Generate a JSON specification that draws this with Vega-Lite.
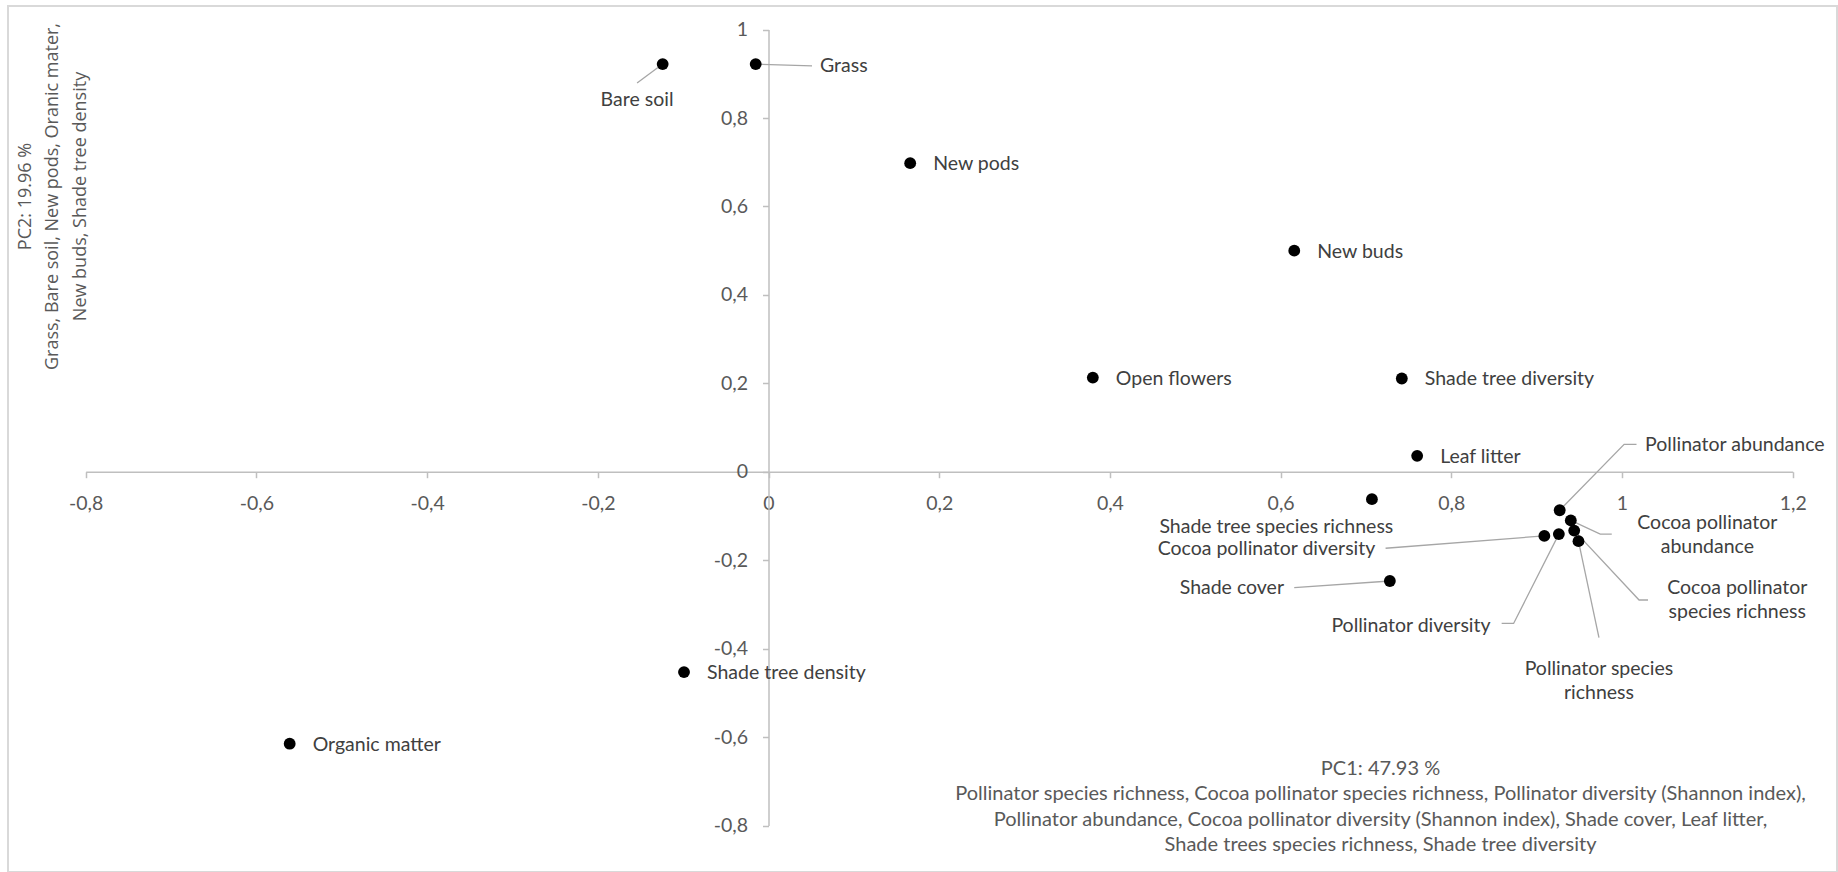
{
  "$schema": "https://vega.github.io/schema/vega-lite/v6.json",
  "autosize": {"type": "none"},
  "padding": {"left": 8, "top": 6, "right": 1, "bottom": 0},
  "width": 1829,
  "height": 866,
  "background": "#ffffff",
  "view": {"stroke": "#d9d9d9", "strokeWidth": 2, "fill": "#ffffff"},
  "datasets": {
    "points": [
      {"variable": "Bare soil", "pc1": -0.124, "pc2": 0.922},
      {"variable": "Grass", "pc1": -0.015, "pc2": 0.922},
      {"variable": "New pods", "pc1": 0.166, "pc2": 0.698},
      {"variable": "New buds", "pc1": 0.616, "pc2": 0.5},
      {"variable": "Open flowers", "pc1": 0.38, "pc2": 0.213},
      {"variable": "Shade tree diversity", "pc1": 0.742, "pc2": 0.211},
      {"variable": "Leaf litter", "pc1": 0.76, "pc2": 0.036},
      {"variable": "Shade tree species richness", "pc1": 0.707, "pc2": -0.062},
      {"variable": "Shade cover", "pc1": 0.728, "pc2": -0.247},
      {"variable": "Pollinator abundance", "pc1": 0.927, "pc2": -0.087},
      {"variable": "Cocoa pollinator abundance", "pc1": 0.94, "pc2": -0.11},
      {"variable": "Cocoa pollinator species richness", "pc1": 0.944, "pc2": -0.133},
      {"variable": "Pollinator species richness", "pc1": 0.949, "pc2": -0.157},
      {"variable": "Pollinator diversity", "pc1": 0.926, "pc2": -0.141},
      {"variable": "Cocoa pollinator diversity", "pc1": 0.909, "pc2": -0.145},
      {"variable": "Shade tree density", "pc1": -0.099, "pc2": -0.453},
      {"variable": "Organic matter", "pc1": -0.561, "pc2": -0.615}
    ],
    "leaders": [
      {"id": "Bare soil", "seq": 0, "pc1": -0.124, "pc2": 0.922},
      {"id": "Bare soil", "seq": 1, "pc1": -0.154, "pc2": 0.879},
      {"id": "Grass", "seq": 0, "pc1": -0.015, "pc2": 0.922},
      {"id": "Grass", "seq": 1, "pc1": 0.051, "pc2": 0.918},
      {"id": "Pollinator abundance", "seq": 0, "pc1": 0.927, "pc2": -0.087},
      {"id": "Pollinator abundance", "seq": 1, "pc1": 1.0025, "pc2": 0.062},
      {"id": "Pollinator abundance", "seq": 2, "pc1": 1.017, "pc2": 0.062},
      {"id": "Cocoa pollinator abundance", "seq": 0, "pc1": 0.94, "pc2": -0.11},
      {"id": "Cocoa pollinator abundance", "seq": 1, "pc1": 0.9745, "pc2": -0.141},
      {"id": "Cocoa pollinator abundance", "seq": 2, "pc1": 0.988, "pc2": -0.141},
      {"id": "Cocoa pollinator species richness", "seq": 0, "pc1": 0.944, "pc2": -0.133},
      {"id": "Cocoa pollinator species richness", "seq": 1, "pc1": 1.02, "pc2": -0.29},
      {"id": "Cocoa pollinator species richness", "seq": 2, "pc1": 1.0305, "pc2": -0.29},
      {"id": "Pollinator species richness", "seq": 0, "pc1": 0.949, "pc2": -0.157},
      {"id": "Pollinator species richness", "seq": 1, "pc1": 0.973, "pc2": -0.375},
      {"id": "Pollinator diversity", "seq": 0, "pc1": 0.926, "pc2": -0.141},
      {"id": "Pollinator diversity", "seq": 1, "pc1": 0.873, "pc2": -0.343},
      {"id": "Pollinator diversity", "seq": 2, "pc1": 0.859, "pc2": -0.343},
      {"id": "Cocoa pollinator diversity", "seq": 0, "pc1": 0.909, "pc2": -0.145},
      {"id": "Cocoa pollinator diversity", "seq": 1, "pc1": 0.723, "pc2": -0.173},
      {"id": "Shade cover", "seq": 0, "pc1": 0.728, "pc2": -0.247},
      {"id": "Shade cover", "seq": 1, "pc1": 0.616, "pc2": -0.262}
    ],
    "labelsLeft": [
      {"label": "Grass", "pc1": 0.0603, "pc2": 0.9177},
      {"label": "Pollinator abundance", "pc1": 1.027, "pc2": 0.0604}
    ],
    "labelsRight": [
      {"label": "Pollinator diversity", "pc1": 0.846, "pc2": -0.348},
      {"label": "Cocoa pollinator diversity", "pc1": 0.711, "pc2": -0.1755},
      {"label": "Shade cover", "pc1": 0.604, "pc2": -0.2637}
    ],
    "labelsCenter": [
      {"label": "Bare soil", "pc1": -0.154, "pc2": 0.841},
      {"label": "Shade tree species richness", "pc1": 0.595, "pc2": -0.1244},
      {"label": "Cocoa pollinator\nabundance", "pc1": 1.1, "pc2": -0.1167},
      {"label": "Cocoa pollinator\nspecies richness", "pc1": 1.135, "pc2": -0.2637},
      {"label": "Pollinator species\nrichness", "pc1": 0.973, "pc2": -0.447}
    ]
  },
  "encoding": {
    "x": {
      "field": "pc1",
      "type": "quantitative",
      "scale": {"domain": [-0.8, 1.2], "range": [77.7, 1784.7], "nice": false, "zero": false},
      "axis": {
        "orient": "bottom",
        "offset": -400.3,
        "values": [-0.8, -0.6, -0.4, -0.2, 0, 0.2, 0.4, 0.6, 0.8, 1, 1.2],
        "labelExpr": "replace(replace(format(datum.value, '~g'), '.', ','), '−', '-')",
        "grid": false,
        "domainColor": "#bfbfbf",
        "domainWidth": 1.5,
        "tickColor": "#bfbfbf",
        "tickWidth": 1.5,
        "tickSize": 6,
        "labelFont": "Lato",
        "labelFontSize": 19.5,
        "labelColor": "#595959",
        "labelPadding": 17,
        "labelOverlap": false,
        "labelFlush": false,
        "labelBound": false,
        "title": [
          "PC1: 47.93 %",
          "Pollinator species richness, Cocoa pollinator species richness, Pollinator diversity (Shannon index),",
          "Pollinator abundance, Cocoa pollinator diversity (Shannon index), Shade cover, Leaf litter,",
          "Shade trees species richness, Shade tree diversity"
        ],
        "titleX": 1372,
        "titleY": 296.3,
        "titleAngle": 0,
        "titleAlign": "center",
        "titleBaseline": "middle",
        "titleLineHeight": 25.5,
        "titleFont": "Lato",
        "titleFontSize": 20,
        "titleFontWeight": "normal",
        "titleColor": "#595959"
      }
    },
    "y": {
      "field": "pc2",
      "type": "quantitative",
      "scale": {"domain": [-0.8, 1], "range": [819.5, 23.6], "nice": false, "zero": false},
      "axis": {
        "orient": "left",
        "offset": -760.5,
        "values": [-0.8, -0.6, -0.4, -0.2, 0, 0.2, 0.4, 0.6, 0.8, 1],
        "labelExpr": "replace(replace(format(datum.value, '~g'), '.', ','), '−', '-')",
        "grid": false,
        "domainColor": "#bfbfbf",
        "domainWidth": 1.5,
        "tickColor": "#bfbfbf",
        "tickWidth": 1.5,
        "tickSize": 6,
        "labelFont": "Lato",
        "labelFontSize": 19.5,
        "labelColor": "#595959",
        "labelPadding": 15,
        "labelOverlap": false,
        "labelFlush": false,
        "labelBound": false,
        "title": [
          "PC2: 19.96 %",
          "Grass, Bare soil, New pods, Oranic mater,",
          "New buds, Shade tree density"
        ],
        "titleX": -743.5,
        "titleY": 190,
        "titleAngle": -90,
        "titleAlign": "center",
        "titleBaseline": "middle",
        "titleLineHeight": 27.5,
        "titleFont": "Open Sans",
        "titleFontSize": 18,
        "titleFontWeight": "normal",
        "titleColor": "#595959"
      }
    }
  },
  "layer": [
    {
      "data": {"name": "leaders"},
      "mark": {"type": "line", "color": "#a6a6a6", "strokeWidth": 1.3},
      "encoding": {
        "detail": {"field": "id", "type": "nominal"},
        "order": {"field": "seq", "type": "quantitative"}
      }
    },
    {
      "data": {"name": "points"},
      "mark": {"type": "circle", "size": 140, "color": "#000000", "opacity": 1}
    },
    {
      "data": {"name": "points"},
      "transform": [
        {"filter": {"field": "variable", "oneOf": ["New pods", "New buds", "Open flowers", "Shade tree diversity", "Leaf litter", "Shade tree density", "Organic matter"]}}
      ],
      "mark": {"type": "text", "align": "left", "baseline": "middle", "dx": 23, "dy": 1, "font": "Lato", "fontSize": 19.5, "color": "#404040"},
      "encoding": {"text": {"field": "variable", "type": "nominal"}}
    },
    {
      "data": {"name": "labelsLeft"},
      "mark": {"type": "text", "align": "left", "baseline": "middle", "font": "Lato", "fontSize": 19.5, "color": "#404040"},
      "encoding": {"text": {"field": "label", "type": "nominal"}}
    },
    {
      "data": {"name": "labelsRight"},
      "mark": {"type": "text", "align": "right", "baseline": "middle", "font": "Lato", "fontSize": 19.5, "color": "#404040"},
      "encoding": {"text": {"field": "label", "type": "nominal"}}
    },
    {
      "data": {"name": "labelsCenter"},
      "mark": {"type": "text", "align": "center", "baseline": "middle", "lineBreak": "\n", "lineHeight": 24, "font": "Lato", "fontSize": 19.5, "color": "#404040"},
      "encoding": {"text": {"field": "label", "type": "nominal"}}
    }
  ],
  "config": {
    "view": {"stroke": "#d9d9d9", "strokeWidth": 2}
  }
}
